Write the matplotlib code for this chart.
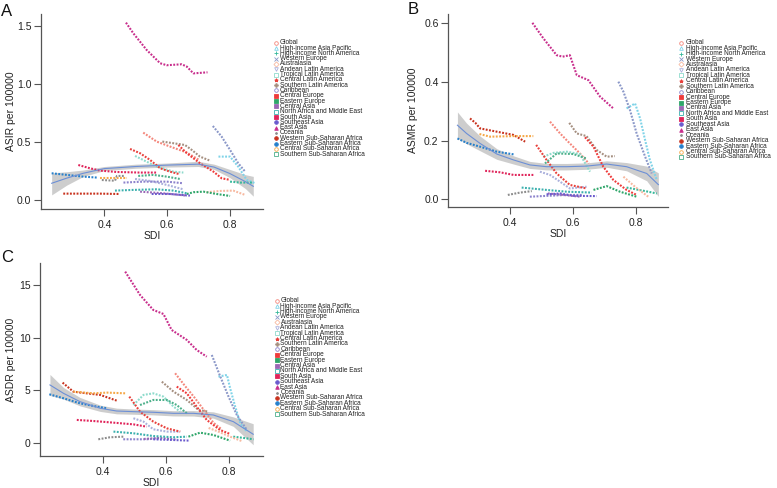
import matplotlib
matplotlib.use("Agg")
import matplotlib.pyplot as plt
from matplotlib.lines import Line2D

plt.rcParams['font.family'] = ['Liberation Sans', 'DejaVu Sans']

regions = ["Global", "High-income Asia Pacific", "High-income North America", "Western Europe",
           "Australasia", "Andean Latin America", "Tropical Latin America", "Central Latin America",
           "Southern Latin America", "Caribbean", "Central Europe", "Eastern Europe", "Central Asia",
           "North Africa and Middle East", "South Asia", "Southeast Asia", "East Asia", "Oceania",
           "Western Sub-Saharan Africa", "Eastern Sub-Saharan Africa", "Central Sub-Saharan Africa",
           "Southern Sub-Saharan Africa"]

colors = ["#F4877C", "#7FD3E8", "#35B89A", "#8A97C8", "#F7B9A0", "#AAB0DC", "#8EDBCC", "#E8413C",
          "#A58F80", "#8C82CC", "#EE3B3B", "#2FA66A", "#9A67B5", "#3BB0AE", "#E0245A", "#6A5ACD",
          "#C82E8C", "#8C8C8C", "#C8321E", "#2680CC", "#F5A848", "#4DB08A"]

markers = ["o", "^", "+", "x", "D", "v", "s", "*", "P", "o", "s", "s", "s", "s", "s", "o",
           "^", ".", "o", "o", "o", "s"]
filled = [False, False, True, True, False, False, False, True, True, False, True, True, True,
          False, True, True, True, True, True, True, False, False]

# ---------------- Panel A: ASIR ----------------
asir_sdi = [
    [0.524, 0.567, 0.61, 0.663, 0.70],
    [0.764, 0.801, 0.827, 0.854, 0.881],
    [0.801, 0.833, 0.875],
    [0.746, 0.774, 0.801, 0.827, 0.849],
    [0.726, 0.769, 0.811, 0.849],
    [0.498, 0.546, 0.599, 0.652],
    [0.498, 0.524, 0.567, 0.62, 0.652],
    [0.482, 0.514, 0.546, 0.578, 0.609, 0.641],
    [0.585, 0.62, 0.657, 0.68, 0.705, 0.739],
    [0.461, 0.524, 0.599, 0.652],
    [0.636, 0.663, 0.705, 0.748, 0.774, 0.801],
    [0.663, 0.684, 0.716, 0.758, 0.801],
    [0.514, 0.588, 0.663],
    [0.434, 0.492, 0.567, 0.62, 0.663],
    [0.317, 0.354, 0.386, 0.439, 0.514, 0.567],
    [0.551, 0.609, 0.673],
    [0.469, 0.4925, 0.535, 0.578, 0.599, 0.647, 0.663, 0.684, 0.729],
    [0.392, 0.434, 0.44, 0.466],
    [0.269, 0.333, 0.386, 0.447],
    [0.232, 0.28, 0.333, 0.376],
    [0.386, 0.429, 0.471],
    [0.508, 0.556, 0.599, 0.641],
]
asir_val = [
    [0.581, 0.504, 0.461, 0.41, 0.35],
    [0.375, 0.375, 0.289, 0.175, 0.146],
    [0.16, 0.152, 0.152],
    [0.638, 0.547, 0.432, 0.318, 0.246],
    [0.069, 0.08, 0.083, 0.046],
    [0.183, 0.166, 0.132, 0.094],
    [0.381, 0.346, 0.289, 0.246, 0.238],
    [0.441, 0.404, 0.346, 0.275, 0.246, 0.223],
    [0.504, 0.49, 0.475, 0.43, 0.375, 0.338],
    [0.152, 0.16, 0.16, 0.146],
    [0.475, 0.404, 0.318, 0.246, 0.189, 0.175],
    [0.054, 0.069, 0.074, 0.054, 0.037],
    [0.074, 0.06, 0.04],
    [0.083, 0.089, 0.094, 0.083, 0.06],
    [0.303, 0.275, 0.255, 0.243, 0.238, 0.238],
    [0.054, 0.054, 0.04],
    [1.526, 1.434, 1.291, 1.177, 1.16, 1.168, 1.148, 1.09, 1.099],
    [0.174, 0.168, 0.209, 0.209],
    [0.057, 0.057, 0.057, 0.054],
    [0.232, 0.218, 0.203, 0.195],
    [0.195, 0.195, 0.195],
    [0.209, 0.218, 0.203, 0.183],
]
asir_fit_sdi = [0.232, 0.28, 0.333, 0.4, 0.5, 0.6, 0.7, 0.75, 0.8, 0.85, 0.875]
asir_fit = [0.146, 0.19, 0.232, 0.272, 0.29, 0.302, 0.31, 0.285, 0.23, 0.16, 0.12]
asir_lo = [0.046, 0.13, 0.205, 0.255, 0.275, 0.285, 0.29, 0.265, 0.195, 0.10, 0.035]
asir_hi = [0.235, 0.245, 0.26, 0.29, 0.31, 0.32, 0.335, 0.31, 0.265, 0.22, 0.205]

# ---------------- Panel B: ASMR ----------------
asmr_sdi = [
    [0.527, 0.559, 0.59, 0.622, 0.65],
    [0.77, 0.797, 0.813, 0.829, 0.844, 0.866],
    [0.77, 0.82, 0.866],
    [0.744, 0.76, 0.781, 0.802, 0.829, 0.85],
    [0.76, 0.80, 0.839],
    [0.495, 0.527, 0.559, 0.59, 0.643],
    [0.506, 0.538, 0.58, 0.622, 0.654],
    [0.483, 0.516, 0.548, 0.59, 0.643],
    [0.588, 0.612, 0.643, 0.675, 0.707, 0.733],
    [0.463, 0.52, 0.58, 0.63],
    [0.638, 0.665, 0.696, 0.728, 0.77, 0.802],
    [0.665, 0.707, 0.749, 0.802],
    [0.52, 0.57, 0.622],
    [0.437, 0.516, 0.58, 0.659],
    [0.321, 0.368, 0.411, 0.474],
    [0.516, 0.56, 0.60, 0.675],
    [0.471, 0.506, 0.548, 0.567, 0.59, 0.612, 0.649, 0.686, 0.728],
    [0.393, 0.432, 0.469],
    [0.273, 0.29, 0.305, 0.358, 0.411, 0.448],
    [0.233, 0.262, 0.305, 0.358, 0.411],
    [0.303, 0.337, 0.411, 0.474],
    [0.511, 0.548, 0.601, 0.643],
]
asmr_val = [
    [0.264, 0.224, 0.19, 0.156, 0.122],
    [0.309, 0.326, 0.275, 0.201, 0.134, 0.066],
    [0.04, 0.03, 0.02],
    [0.40, 0.366, 0.303, 0.224, 0.145, 0.088],
    [0.077, 0.04, 0.009],
    [0.094, 0.083, 0.06, 0.037, 0.043],
    [0.145, 0.158, 0.162, 0.154, 0.094],
    [0.185, 0.134, 0.088, 0.049, 0.037],
    [0.26, 0.224, 0.215, 0.168, 0.145, 0.147],
    [0.009, 0.012, 0.015, 0.015],
    [0.211, 0.179, 0.111, 0.066, 0.032, 0.015],
    [0.032, 0.045, 0.026, 0.009],
    [0.02, 0.015, 0.009],
    [0.04, 0.032, 0.026, 0.023],
    [0.097, 0.092, 0.083, 0.083],
    [0.017, 0.02, 0.012, 0.011],
    [0.600, 0.547, 0.49, 0.485, 0.49, 0.422, 0.405, 0.349, 0.309],
    [0.015, 0.023, 0.028],
    [0.275, 0.26, 0.241, 0.23, 0.219, 0.196],
    [0.207, 0.192, 0.179, 0.162, 0.153],
    [0.222, 0.213, 0.215, 0.215],
    [0.122, 0.156, 0.154, 0.139],
]
asmr_fit_sdi = [0.233, 0.262, 0.305, 0.358, 0.411, 0.463, 0.516, 0.58, 0.643, 0.707, 0.77, 0.834, 0.871]
asmr_fit = [0.252, 0.224, 0.19, 0.154, 0.134, 0.117, 0.111, 0.111, 0.113, 0.12, 0.111, 0.088, 0.05]
asmr_lo = [0.207, 0.189, 0.165, 0.136, 0.12, 0.105, 0.1, 0.1, 0.102, 0.109, 0.097, 0.063, 0.01]
asmr_hi = [0.297, 0.259, 0.215, 0.172, 0.148, 0.129, 0.122, 0.122, 0.124, 0.131, 0.125, 0.113, 0.09]

# ---------------- Panel C: ASDR ----------------
asdr_sdi = [
    [0.629, 0.66, 0.69, 0.72, 0.75, 0.775],
    [0.766, 0.793, 0.803, 0.819, 0.835, 0.856],
    [0.813, 0.845, 0.877],
    [0.745, 0.772, 0.798, 0.824, 0.856],
    [0.735, 0.77, 0.80, 0.84],
    [0.497, 0.529, 0.56, 0.603, 0.645],
    [0.497, 0.529, 0.56, 0.592, 0.624, 0.645],
    [0.484, 0.518, 0.56, 0.603, 0.645],
    [0.587, 0.624, 0.666, 0.703, 0.734],
    [0.465, 0.539, 0.581],
    [0.634, 0.666, 0.697, 0.729, 0.771, 0.803],
    [0.671, 0.708, 0.75, 0.803],
    [0.53, 0.58, 0.63],
    [0.434, 0.497, 0.56, 0.624, 0.666],
    [0.318, 0.37, 0.423, 0.497, 0.539],
    [0.56, 0.624, 0.676],
    [0.471, 0.518, 0.56, 0.592, 0.618, 0.666, 0.697, 0.729],
    [0.386, 0.423, 0.465],
    [0.273, 0.307, 0.349, 0.392, 0.444],
    [0.231, 0.276, 0.328, 0.381, 0.413],
    [0.307, 0.37, 0.413, 0.474],
    [0.518, 0.56, 0.603, 0.634, 0.666],
]
asdr_val = [
    [6.6, 5.4, 4.3, 3.1, 1.9, 1.3],
    [6.28, 6.44, 5.17, 3.43, 1.85, 1.05],
    [0.57, 0.45, 0.32],
    [8.34, 6.28, 4.38, 2.64, 1.21],
    [1.4, 1.0, 0.6, 0.15],
    [2.32, 2.0, 1.27, 1.05, 1.05],
    [3.58, 4.54, 4.69, 4.38, 3.43, 2.95],
    [4.38, 2.95, 2.0, 1.36, 1.05],
    [5.8, 4.85, 4.06, 3.11, 2.95],
    [0.32, 0.32, 0.41],
    [5.33, 4.69, 3.43, 2.16, 1.21, 0.82],
    [0.57, 0.95, 0.73, 0.19],
    [0.35, 0.45, 0.3],
    [1.05, 0.89, 0.63, 0.51, 0.57],
    [2.16, 2.06, 1.93, 1.74, 1.52],
    [0.32, 0.25, 0.19],
    [16.27, 14.05, 12.62, 12.24, 10.72, 9.77, 8.82, 8.18],
    [0.32, 0.51, 0.57],
    [5.71, 4.85, 4.69, 4.54, 4.0],
    [4.6, 4.22, 3.74, 3.43, 3.27],
    [4.85, 4.69, 4.76, 4.69],
    [3.58, 4.06, 4.06, 3.58, 2.79],
]
asdr_fit_sdi = [0.233, 0.276, 0.328, 0.392, 0.444, 0.497, 0.56, 0.624, 0.687, 0.75, 0.813, 0.876]
asdr_fit = [5.49, 4.69, 3.9, 3.27, 3.01, 2.95, 2.89, 2.79, 2.79, 2.63, 2.0, 0.8]
asdr_lo = [4.49, 4.14, 3.5, 2.97, 2.74, 2.7, 2.64, 2.54, 2.53, 2.33, 1.55, -0.2]
asdr_hi = [6.49, 5.24, 4.3, 3.57, 3.28, 3.2, 3.14, 3.04, 3.05, 2.93, 2.45, 1.8]

W, H = 777, 488
fig = plt.figure(figsize=(W / 100, H / 100), dpi=100)


def make_axes(x0, x1, ytop, ybot):
    return fig.add_axes([x0 / W, 1 - ybot / H, (x1 - x0) / W, (ybot - ytop) / H])


def style(ax, xlim, ylim, yticks, ylab, yfmt, ylabx, xlaby):
    ax.set_xlim(*xlim)
    ax.set_ylim(*ylim)
    ax.set_xticks([0.4, 0.6, 0.8])
    ax.set_xticklabels(["0.4", "0.6", "0.8"])
    ax.set_yticks(yticks)
    ax.set_yticklabels([yfmt.format(v) for v in yticks])
    for s in ["top", "right"]:
        ax.spines[s].set_visible(False)
    for s in ["left", "bottom"]:
        ax.spines[s].set_color("#555555")
        ax.spines[s].set_linewidth(0.9)
    ax.tick_params(axis="both", length=5, width=0.8, color="#555555", labelsize=7.5,
                   labelcolor="#222222", pad=3)
    ax.tick_params(axis="y", pad=2)
    ax.set_ylabel(ylab, fontsize=7.5, color="#222222")
    ax.set_xlabel("SDI", fontsize=7.5, color="#222222")
    ax.yaxis.set_label_coords(ylabx, 0.5)
    ax.xaxis.set_label_coords(0.5, xlaby)


def draw(ax, sdis, vals, fsdi, fit, lo, hi):
    ax.fill_between(fsdi, lo, hi, color="#BDBDBD", alpha=0.75, lw=0, zorder=1)
    for i in range(len(regions)):
        ax.plot(sdis[i], vals[i], color=colors[i], lw=1.5, linestyle=(0, (0.9, 0.7)),
                solid_capstyle="round", zorder=2)
    ax.plot(fsdi, fit, color="#6C8FD6", lw=0.8, zorder=3)


def legend(xm, xt, y0, dy):
    for i, name in enumerate(regions):
        y = 1 - (y0 + i * dy) / H
        mfc = colors[i] if filled[i] else "none"
        fig.add_artist(Line2D([xm / W], [y], transform=fig.transFigure, marker=markers[i],
                              markersize=2.6, markerfacecolor=mfc, markeredgecolor=colors[i],
                              markeredgewidth=0.6, linestyle="none"))
        fig.text(xt / W, y, name, fontsize=4.7, color="#222222", va="center", ha="left")


axA = make_axes(41, 263, 14, 209)
draw(axA, asir_sdi, asir_val, asir_fit_sdi, asir_fit, asir_lo, asir_hi)
style(axA, (0.198, 0.906), (-0.075, 1.6), [0.0, 0.5, 1.0, 1.5], "ASIR per 100000", "{:.1f}",
      -0.113, -0.113)

axB = make_axes(448.3, 668, 14, 206.7)
draw(axB, asmr_sdi, asmr_val, asmr_fit_sdi, asmr_fit, asmr_lo, asmr_hi)
style(axB, (0.204, 0.9016), (-0.025, 0.63), [0.0, 0.2, 0.4, 0.6], "ASMR per 100000", "{:.1f}",
      -0.138, -0.115)

axC = make_axes(40.3, 263, 263.3, 456)
draw(axC, asdr_sdi, asdr_val, asdr_fit_sdi, asdr_fit, asdr_lo, asdr_hi)
style(axC, (0.2025, 0.907), (-1.27, 17.06), [0, 5, 10, 15], "ASDR per 100000", "{:.0f}",
      -0.110, -0.112)

legend(275.7, 279.5, 42.7, 5.31)
legend(680.7, 685.5, 42.7, 5.44)
legend(276.7, 280.5, 300.7, 5.4)

fig.text(7 / W, 1 - 11 / H, "A", fontsize=12, ha="center", va="center", color="#111111")
fig.text(413 / W, 1 - 10 / H, "B", fontsize=12, ha="center", va="center", color="#111111")
fig.text(7 / W, 1 - 258 / H, "C", fontsize=12, ha="center", va="center", color="#111111")

fig.savefig("out.png", dpi=100)
